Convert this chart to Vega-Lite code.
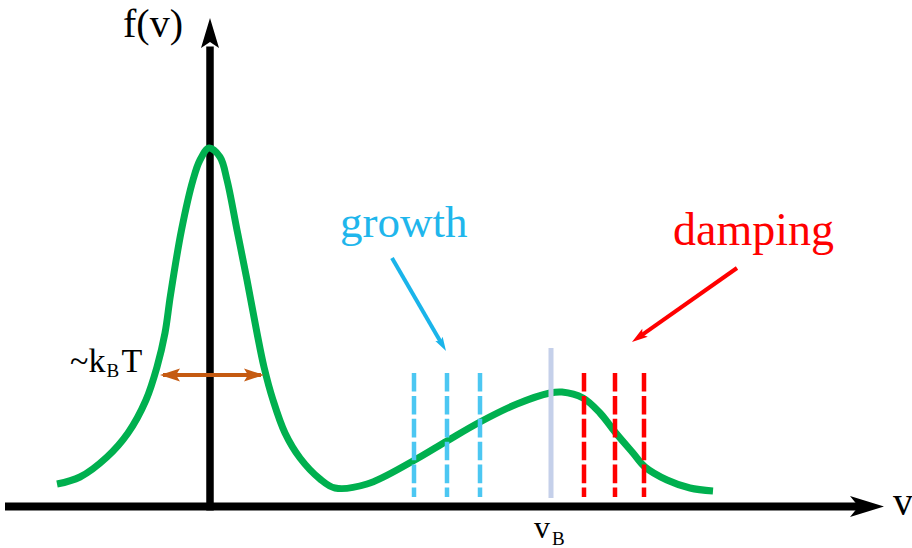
{
  "$schema": "https://vega.github.io/schema/vega-lite/v6.json",
  "width": 912,
  "height": 548,
  "padding": 0,
  "autosize": {"type": "none"},
  "background": "white",
  "config": {"view": {"stroke": null}},
  "datasets": {
    "curve": [
      {"v": -1.53, "f": 0.225}, {"v": -1.30, "f": 0.295}, {"v": -1.03, "f": 0.495},
      {"v": -0.82, "f": 0.735}, {"v": -0.64, "f": 1.065}, {"v": -0.53, "f": 1.395},
      {"v": -0.45, "f": 1.735}, {"v": -0.395, "f": 2.115}, {"v": -0.285, "f": 2.765},
      {"v": -0.17, "f": 3.265}, {"v": -0.10, "f": 3.465}, {"v": -0.01, "f": 3.585},
      {"v": 0.10, "f": 3.495}, {"v": 0.17, "f": 3.265}, {"v": 0.27, "f": 2.765},
      {"v": 0.37, "f": 2.265}, {"v": 0.47, "f": 1.735},
      {"v": 0.54, "f": 1.395}, {"v": 0.63, "f": 1.065}, {"v": 0.75, "f": 0.735},
      {"v": 0.90, "f": 0.485}, {"v": 1.10, "f": 0.275}, {"v": 1.25, "f": 0.185},
      {"v": 1.57, "f": 0.225}, {"v": 2.03, "f": 0.455}, {"v": 2.37, "f": 0.655},
      {"v": 2.70, "f": 0.845}, {"v": 3.07, "f": 1.025}, {"v": 3.40, "f": 1.135},
      {"v": 3.52, "f": 1.145}, {"v": 3.73, "f": 1.085}, {"v": 3.90, "f": 0.935},
      {"v": 4.05, "f": 0.745}, {"v": 4.23, "f": 0.535}, {"v": 4.35, "f": 0.395},
      {"v": 4.57, "f": 0.265}, {"v": 4.80, "f": 0.185}, {"v": 5.03, "f": 0.155}
    ],
    "growthModes": [
      {"v": 2.04, "f": 1.335, "f2": 0.095},
      {"v": 2.37, "f": 1.335, "f2": 0.095},
      {"v": 2.70, "f": 1.335, "f2": 0.095}
    ],
    "dampingModes": [
      {"v": 3.74, "f": 1.335, "f2": 0.095},
      {"v": 4.05, "f": 1.335, "f2": 0.095},
      {"v": 4.34, "f": 1.335, "f2": 0.095}
    ],
    "beam": [{"v": 3.41, "f": 1.585, "f2": 0.085}]
  },
  "encoding": {
    "x": {"field": "v", "type": "quantitative", "scale": {"domain": [-2.1, 7.02], "nice": false, "zero": false}, "axis": null},
    "y": {"field": "f", "type": "quantitative", "scale": {"domain": [-0.415, 5.065], "nice": false, "zero": false}, "axis": null}
  },
  "layer": [
    {
      "data": {"values": [{"v": -2.05, "v2": 6.50, "f": 0}]},
      "mark": {"type": "rule", "color": "black", "strokeWidth": 8},
      "encoding": {"x2": {"field": "v2"}}
    },
    {
      "data": {"values": [{"v": 6.57, "f": 0}]},
      "mark": {"type": "point", "shape": "M1,0L-1,-0.62L-0.5,0L-1,0.62Z", "filled": true, "opacity": 1, "color": "black", "size": 1156, "angle": 0}
    },
    {
      "data": {"values": [{"v": 0, "f": -0.04, "f2": 4.60}]},
      "mark": {"type": "rule", "color": "black", "strokeWidth": 7.5},
      "encoding": {"y2": {"field": "f2"}}
    },
    {
      "data": {"values": [{"v": 0, "f": 4.735}]},
      "mark": {"type": "point", "shape": "M1,0L-1,-0.6L-0.6,0L-1,0.6Z", "filled": true, "opacity": 1, "color": "black", "size": 900, "angle": 270}
    },
    {
      "data": {"name": "curve"},
      "mark": {"type": "line", "interpolate": "catmull-rom", "color": "#00b04f", "strokeWidth": 7, "strokeCap": "butt"}
    },
    {
      "data": {"name": "beam"},
      "mark": {"type": "rule", "color": "#c5d0ea", "strokeWidth": 5},
      "encoding": {"y2": {"field": "f2"}}
    },
    {
      "data": {"name": "growthModes"},
      "mark": {"type": "rule", "color": "#4cc7f2", "strokeWidth": 4.5, "strokeDash": [18.6, 4.3]},
      "encoding": {"y2": {"field": "f2"}}
    },
    {
      "data": {"name": "dampingModes"},
      "mark": {"type": "rule", "color": "#ff0000", "strokeWidth": 4.5, "strokeDash": [18.6, 4.3]},
      "encoding": {"y2": {"field": "f2"}}
    },
    {
      "data": {"values": [{"v": -0.47, "v2": 0.51, "f": 1.315}]},
      "mark": {"type": "rule", "color": "#c55a11", "strokeWidth": 4},
      "encoding": {"x2": {"field": "v2"}}
    },
    {
      "data": {"values": [{"v": -0.40, "f": 1.315}]},
      "mark": {"type": "point", "shape": "M1,0L-1,-0.65L-0.6,0L-1,0.65Z", "filled": true, "opacity": 1, "color": "#c55a11", "size": 400, "angle": 180}
    },
    {
      "data": {"values": [{"v": 0.44, "f": 1.315}]},
      "mark": {"type": "point", "shape": "M1,0L-1,-0.65L-0.6,0L-1,0.65Z", "filled": true, "opacity": 1, "color": "#c55a11", "size": 400, "angle": 0}
    },
    {
      "data": {"values": [{"v": 1.82, "f": 2.485, "v2": 2.31, "f2": 1.641}]},
      "mark": {"type": "rule", "color": "#1ab4ea", "strokeWidth": 4},
      "encoding": {"x2": {"field": "v2"}, "y2": {"field": "f2"}}
    },
    {
      "data": {"values": [{"v": 2.325, "f": 1.615}]},
      "mark": {"type": "point", "shape": "M1,0L-1,-0.6L-0.6,0L-1,0.6Z", "filled": true, "opacity": 1, "color": "#1ab4ea", "size": 196, "angle": 60}
    },
    {
      "data": {"values": [{"v": 5.27, "f": 2.385, "v2": 4.31, "f2": 1.708}]},
      "mark": {"type": "rule", "color": "#ff0000", "strokeWidth": 4},
      "encoding": {"x2": {"field": "v2"}, "y2": {"field": "f2"}}
    },
    {
      "data": {"values": [{"v": 4.285, "f": 1.691}]},
      "mark": {"type": "point", "shape": "M1,0L-1,-0.6L-0.6,0L-1,0.6Z", "filled": true, "opacity": 1, "color": "#ff0000", "size": 256, "angle": 144.8}
    },
    {
      "data": {"values": [{"v": -0.87, "f": 4.695, "label": "f(v)"}]},
      "mark": {"type": "text", "font": "Liberation Serif", "fontSize": 40, "align": "left", "baseline": "alphabetic", "color": "black"},
      "encoding": {"text": {"field": "label"}}
    },
    {
      "data": {"values": [{"v": 6.83, "f": -0.085, "label": "v"}]},
      "mark": {"type": "text", "font": "Liberation Serif", "fontSize": 40, "align": "left", "baseline": "alphabetic", "color": "black"},
      "encoding": {"text": {"field": "label"}}
    },
    {
      "data": {"values": [{"v": 3.24, "f": -0.315, "label": "v"}]},
      "mark": {"type": "text", "font": "Liberation Serif", "fontSize": 32, "align": "left", "baseline": "alphabetic", "color": "black"},
      "encoding": {"text": {"field": "label"}}
    },
    {
      "data": {"values": [{"v": -1.40, "f": 1.345, "label": "~k"}, {"v": -0.885, "f": 1.345, "label": "T"}]},
      "mark": {"type": "text", "font": "Liberation Serif", "fontSize": 34, "align": "left", "baseline": "alphabetic", "color": "black"},
      "encoding": {"text": {"field": "label"}}
    },
    {
      "data": {"values": [{"v": 3.42, "f": -0.385, "label": "B"}, {"v": -1.035, "f": 1.295, "label": "B"}]},
      "mark": {"type": "text", "font": "Liberation Serif", "fontSize": 19, "align": "left", "baseline": "alphabetic", "color": "black"},
      "encoding": {"text": {"field": "label"}}
    },
    {
      "data": {"values": [{"v": 1.30, "f": 2.695, "label": "growth"}]},
      "mark": {"type": "text", "font": "Liberation Serif", "fontSize": 45, "align": "left", "baseline": "alphabetic", "color": "#1fb6ec"},
      "encoding": {"text": {"field": "label"}}
    },
    {
      "data": {"values": [{"v": 4.63, "f": 2.615, "label": "damping"}]},
      "mark": {"type": "text", "font": "Liberation Serif", "fontSize": 46, "align": "left", "baseline": "alphabetic", "color": "#ff0000"},
      "encoding": {"text": {"field": "label"}}
    }
  ]
}
